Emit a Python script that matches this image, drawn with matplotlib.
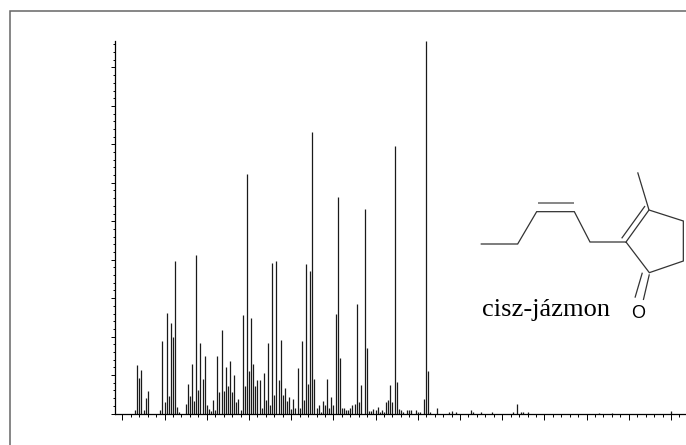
import matplotlib
matplotlib.use("Agg")
import matplotlib.pyplot as plt
from matplotlib.lines import Line2D
from matplotlib.ticker import MultipleLocator

W, H = 686, 445
mz = [26,27,28,29,30,31,32,38,39,40,41,42,43,44,45,46,47,50,51,52,53,54,55,56,57,58,59,60,61,62,63,64,65,66,67,68,69,70,
      71,72,73,74,75,76,77,78,79,80,81,82,83,84,85,86,87,88,89,90,91,92,93,94,95,96,97,98,99,100,101,102,103,104,105,106,
      107,108,109,110,111,112,113,114,115,116,117,118,119,120,121,122,123,124,125,126,127,128,129,130,131,132,133,135,136,
      137,138,139,140,141,142,143,144,145,146,147,148,149,150,151,152,153,155,156,157,159,160,161,163,164,165,166,169,
      175,176,178,185,186,190,195,205,207,209,210,212,246,252,280]
abund = [90,1257,928,1127,87,416,581,87,1881,312,2601,451,2350,1994,3962,173,52,260,772,468,1283,329,4118,607,1821,893,1491,217,130,69,347,87,1483,555,2168,590,1205,728,
         1361,555,1006,295,381,104,2558,711,6229,1101,2471,1300,711,867,867,147,1066,347,1838,217,3919,477,3971,884,1907,477,668,321,433,113,381,147,1179,156,1873,347,
         3876,780,3702,7321,910,147,217,43,321,234,910,147,425,217,2584,5631,1431,156,147,104,104,147,234,243,2835,295,754,5319,1699,
         78,69,130,87,165,43,87,52,303,347,754,295,6957,832,113,87,52,104,104,104,87,43,43,390,9688,1118,52,147,
         50,60,40,85,40,50,40,50,260,40,40,40,25,25,70]

fig = plt.figure(figsize=(W / 100, H / 100), dpi=100, facecolor="white")

# Spectrum axes: spine positions follow the picture's baseline and y axis
x0, x1 = 114.5, 686.0
y_base, y_top = 413.5, 41.0
ax = fig.add_axes([x0 / W, 1 - y_base / H, (x1 - x0) / W, (y_base - y_top) / H])
ax.patch.set_alpha(0)
ax.set_xlim(40 + (x0 - 164.6) / 2.11, 40 + (x1 - 164.6) / 2.11)
ax.set_ylim(0, 9688)
ax.vlines(mz, 0, abund, color="#1a1a1a", lw=0.9)

for s in ("top", "right"):
    ax.spines[s].set_visible(False)
for s in ("left", "bottom"):
    ax.spines[s].set_linewidth(0.9)
ax.xaxis.set_major_locator(MultipleLocator(20))
ax.xaxis.set_minor_locator(MultipleLocator(4))
ax.yaxis.set_major_locator(MultipleLocator(1000))
ax.yaxis.set_minor_locator(MultipleLocator(200))
ax.tick_params(axis="x", which="major", length=4.3, width=0.7, labelbottom=False)
ax.tick_params(axis="x", which="minor", length=2.4, width=0.7)
ax.tick_params(axis="y", which="major", length=3.0, width=0.7, labelleft=False)
ax.tick_params(axis="y", which="minor", length=1.5, width=0.7)


def px_line(xs, ys, lw=0.9, color="#333333"):
    fig.add_artist(Line2D([x / W for x in xs], [1 - y / H for y in ys],
                          transform=fig.transFigure, color=color, lw=lw,
                          solid_capstyle="butt", solid_joinstyle="miter"))


def z(points):
    return [470 + p[0] / 3 for p in points], [160 + p[1] / 3 for p in points]


# Outer frame of the picture: only its left and top sides are visible
px_line([10.0, 10.0, 686.0], [445.0, 10.5, 10.5], lw=1.1, color="#666666")

# Structural formula, in zoomed-crop coordinates
px_line(*z([(32, 252), (143, 252), (200, 155), (313, 155), (360, 246), (468, 246),
            (537, 150), (640, 183), (640, 303), (538, 338), (468, 246)]))
px_line(*z([(203, 128), (312, 128)]), lw=1.1, color="#666666")
px_line(*z([(537, 150), (503, 37)]))
px_line(*z([(455, 235), (525, 138)]))
px_line(*z([(538, 343), (520, 420)]))
px_line(*z([(517, 338), (495, 413)]))

fig.text(482 / W, 1 - 316 / H, "cisz-jázmon", family="Liberation Serif",
         fontsize=19, color="black", ha="left", va="baseline")
fig.text(638.3 / W, 1 - 318.5 / H, "O", family="Liberation Sans",
         fontsize=13, color="black", ha="center", va="baseline")

fig.savefig("out.png", dpi=100)
